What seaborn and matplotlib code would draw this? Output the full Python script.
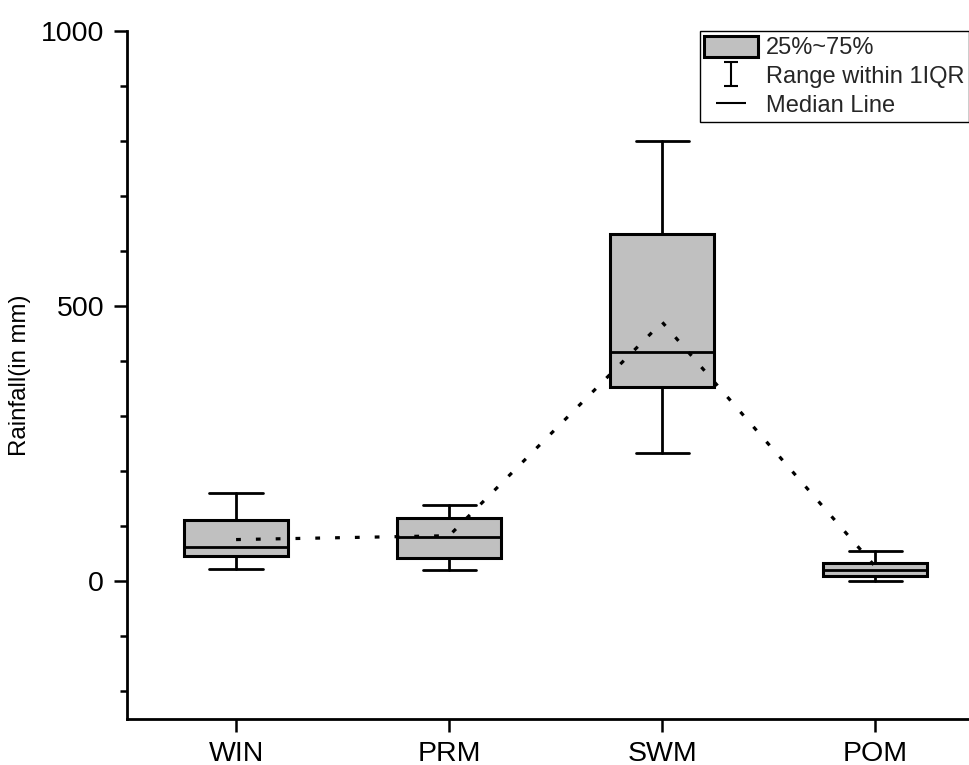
import matplotlib
matplotlib.use("Agg")
import matplotlib.pyplot as plt
import seaborn as sns
import numpy as np
from matplotlib.patches import Patch
from matplotlib.lines import Line2D
from matplotlib.path import Path
from matplotlib.ticker import MultipleLocator

# ---- data ----
seasons = ["WIN", "PRM", "SWM", "POM"]
whisker_low = [22, 20, 233, 0]
q1 = [46, 42, 353, 9]
median = [62, 80, 416, 20]
q3 = [111, 115, 631, 33]
whisker_high = [160, 138, 800, 55]
mean = [76, 83, 471, 27]

sns.set_style("ticks")
plt.rcParams['font.family'] = ['Liberation Sans', 'DejaVu Sans']

fig = plt.figure(figsize=(9.7, 7.65), dpi=100)
ax = fig.add_axes([127 / 970, 1 - 719 / 765, 842 / 970, 688 / 765])

positions = list(range(len(seasons)))
stats = [dict(label=s, whislo=wl, q1=a, med=m, q3=b, whishi=wh, fliers=[])
         for s, wl, a, m, b, wh in zip(seasons, whisker_low, q1, median, q3, whisker_high)]

ax.bxp(stats, positions=positions, widths=0.49, capwidths=0.25,
       patch_artist=True, showfliers=False,
       boxprops=dict(facecolor='#c0c0c0', edgecolor='black', linewidth=2.2),
       whiskerprops=dict(color='black', linewidth=2.0),
       capprops=dict(color='black', linewidth=2.0),
       medianprops=dict(color='black', linewidth=2.0))

sns.lineplot(x=positions, y=mean, ax=ax, color='black', linewidth=2.3,
             linestyle=(0, (1.5, 4.7)), zorder=5, legend=False)

ax.set_xlim(-0.512, 3.44)
ax.set_ylim(-250, 1000)
ax.set_xticks(positions)
ax.set_xticklabels(seasons)
ax.yaxis.set_major_locator(MultipleLocator(500))
ax.yaxis.set_minor_locator(MultipleLocator(100))

for side in ['top', 'right']:
    ax.spines[side].set_visible(False)
for side in ['left', 'bottom']:
    ax.spines[side].set_linewidth(2.0)
    ax.spines[side].set_color('black')

ax.tick_params(axis='both', which='major', direction='out', length=9.5, width=1.8,
               labelsize=20.5, color='black', labelcolor='black')
ax.tick_params(axis='y', which='major', pad=7)
ax.tick_params(axis='x', which='major', pad=6)
ax.tick_params(axis='y', which='minor', direction='out', length=5, width=1.8, color='black')

ax.set_ylabel("Rainfall(in mm)", fontsize=17.3, color='black')
ax.yaxis.set_label_coords(-0.114, 0.5)
ax.set_xlabel("")

# legend handles
box_handle = Patch(facecolor='#c0c0c0', edgecolor='black', linewidth=2.2)
i_path = Path([(-0.31, 0.5), (0.31, 0.5), (0, 0.5), (0, -0.5), (-0.31, -0.5), (0.31, -0.5)],
              [Path.MOVETO, Path.LINETO, Path.MOVETO, Path.LINETO, Path.MOVETO, Path.LINETO])
range_handle = Line2D([], [], linestyle='none', marker=i_path, markersize=17,
                      markeredgecolor='black', markerfacecolor='none', markeredgewidth=1.5)
h_path = Path([(-0.5, 0), (0.5, 0)], [Path.MOVETO, Path.LINETO])
med_handle = Line2D([], [], linestyle='none', marker=h_path, markersize=22,
                    markeredgecolor='black', markeredgewidth=1.5)
leg = ax.legend([box_handle, range_handle, med_handle],
                ["25%~75%", "Range within 1IQR", "Median Line"],
                loc='upper right', bbox_to_anchor=(1.0, 1.0), borderaxespad=0.0,
                fontsize=17, frameon=True, fancybox=False, framealpha=1,
                edgecolor='black', handlelength=2.25, handleheight=1.0,
                labelspacing=0.22, handletextpad=0.35, borderpad=0.2, numpoints=1)
leg.get_frame().set_linewidth(1.0)

fig.savefig("out.png", dpi=100)
